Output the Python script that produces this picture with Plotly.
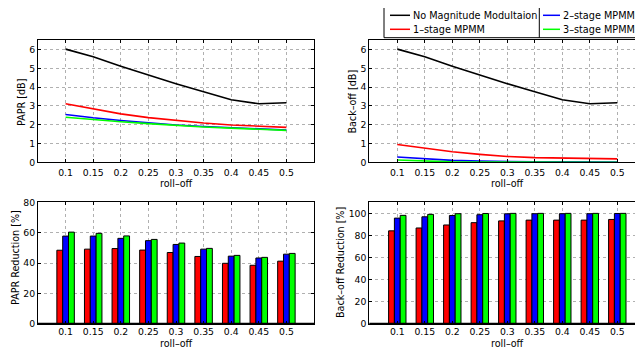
import plotly.graph_objects as go

roll_off = [0.1, 0.15, 0.2, 0.25, 0.3, 0.35, 0.4, 0.45, 0.5]
tick_labels = ["0.1", "0.15", "0.2", "0.25", "0.3", "0.35", "0.4", "0.45", "0.5"]

papr_none = [6.03, 5.62, 5.12, 4.64, 4.19, 3.76, 3.33, 3.12, 3.17]
papr_1 = [3.12, 2.85, 2.58, 2.38, 2.22, 2.09, 1.99, 1.92, 1.86]
papr_2 = [2.55, 2.37, 2.23, 2.10, 1.99, 1.91, 1.84, 1.77, 1.72]
papr_3 = [2.40, 2.27, 2.16, 2.06, 1.96, 1.88, 1.82, 1.75, 1.70]

bo_none = [6.03, 5.62, 5.12, 4.64, 4.19, 3.76, 3.33, 3.12, 3.17]
bo_1 = [0.95, 0.76, 0.56, 0.42, 0.31, 0.25, 0.22, 0.20, 0.18]
bo_2 = [0.28, 0.18, 0.10, 0.06, 0.03, 0.02, 0.02, 0.01, 0.01]
bo_3 = [0.12, 0.06, 0.02, 0.01, 0.0, 0.0, 0.0, 0.0, 0.0]

papr_red_1 = [48.5, 49.2, 49.6, 48.6, 47.0, 44.4, 39.9, 38.6, 41.3]
papr_red_2 = [57.8, 57.8, 56.3, 54.8, 52.3, 49.2, 44.6, 43.4, 45.9]
papr_red_3 = [60.4, 59.6, 57.9, 55.6, 53.2, 49.7, 45.1, 43.8, 46.4]

bo_red_1 = [84.2, 86.8, 89.5, 91.6, 93.2, 93.9, 93.9, 93.9, 94.5]
bo_red_2 = [95.7, 96.9, 98.1, 98.8, 99.6, 99.7, 99.7, 99.7, 99.9]
bo_red_3 = [98.2, 99.1, 99.7, 99.9, 100, 100, 100, 100, 100]

series_names = ["No Magnitude Modultaion", "1\u2013stage MPMM", "2\u2013stage MPMM", "3\u2013stage MPMM"]
colors = ["#000000", "#ff0000", "#0000ff", "#00ff00"]

x_title = "roll\u2013off"
y_titles = ["PAPR [dB]", "Back\u2013off [dB]", "PAPR Reduction [%]", "Back\u2013off Reduction [%]"]

W, H = 643, 349
OFF = 8  # page body margin offset
FONT = "DejaVu Sans, Verdana, sans-serif"

def px_x(p):
    return (p - OFF) / W

def px_y(p):
    return 1 - (p - OFF) / H

fig = go.Figure()

for ys, name, c in zip([papr_none, papr_1, papr_2, papr_3], series_names, colors):
    fig.add_trace(go.Scatter(x=roll_off, y=ys, mode="lines", name=name,
                             line=dict(color=c, width=1.6), xaxis="x", yaxis="y",
                             showlegend=False))
for ys, name, c in zip([bo_none, bo_1, bo_2, bo_3], series_names, colors):
    fig.add_trace(go.Scatter(x=roll_off, y=ys, mode="lines", name=name,
                             line=dict(color=c, width=1.6), xaxis="x2", yaxis="y2",
                             showlegend=False))
for ys, name, c in zip([papr_red_1, papr_red_2, papr_red_3], series_names[1:], colors[1:]):
    fig.add_trace(go.Bar(x=roll_off, y=ys, name=name, marker=dict(color=c, line=dict(color="#000", width=1)),
                         xaxis="x3", yaxis="y3", showlegend=False, offsetgroup=name))
for ys, name, c in zip([bo_red_1, bo_red_2, bo_red_3], series_names[1:], colors[1:]):
    fig.add_trace(go.Bar(x=roll_off, y=ys, name=name, marker=dict(color=c, line=dict(color="#000", width=1)),
                         xaxis="x4", yaxis="y4", showlegend=False, offsetgroup=name))

top_px = (40.3, 162.3)
bot_px = (202.3, 324.0)
left_px = (38.0, 314.0)
right_px = (369.3, 644.8)

top_dom = [px_y(top_px[1]), px_y(top_px[0])]
bot_dom = [px_y(bot_px[1]), px_y(bot_px[0])]
left_dom = [px_x(left_px[0]), px_x(left_px[1])]
right_dom = [px_x(right_px[0]), 1.0]
right_end_px = W + OFF
right_rng = [0.1 - (397.3 - 369.3) / 550.0, 0.1 + (right_end_px - 397.3) / 550.0]

tickfont = dict(family=FONT, size=9.3, color="#000")
titlefont = dict(family=FONT, size=9.6, color="#000")

def xax(dom, anchor, rng, standoff):
    return dict(domain=dom, anchor=anchor, range=rng, tickvals=roll_off, ticktext=tick_labels,
                showline=True, linecolor="#000", linewidth=1, mirror="allticks",
                ticks="inside", ticklen=3, tickcolor="#000",
                showgrid=True, gridcolor="#b0b0b0", griddash="dot", gridwidth=1,
                zeroline=False, tickfont=tickfont, automargin=False, ticklabelstandoff=standoff)

def yax(dom, anchor, rng, dtick):
    return dict(domain=dom, anchor=anchor, range=rng, dtick=dtick, tick0=0,
                showline=True, linecolor="#000", linewidth=1, mirror="allticks",
                ticks="inside", ticklen=3, tickcolor="#000",
                showgrid=True, gridcolor="#b0b0b0", griddash="dot", gridwidth=1,
                zeroline=False, tickfont=tickfont, automargin=False)

fig.update_layout(
    width=W, height=H,
    margin=dict(l=0, r=0, t=0, b=0),
    paper_bgcolor="white", plot_bgcolor="white",
    font=dict(family=FONT, size=9.6, color="#000"),
    barmode="group", bargap=0.367, bargroupgap=0,
    showlegend=False,
    xaxis=xax(left_dom, "y", [0.05, 0.55], 2),
    yaxis=yax(top_dom, "x", [0, 6.5], 1),
    xaxis2=xax(right_dom, "y2", right_rng, 2),
    yaxis2=yax(top_dom, "x2", [0, 6.5], 1),
    xaxis3=xax(left_dom, "y3", [0.05, 0.55], -1),
    yaxis3=yax(bot_dom, "x3", [0, 80], 20),
    xaxis4=xax(right_dom, "y4", right_rng, -1),
    yaxis4=yax(bot_dom, "x4", [0, 110], 20),
)

for yref, xref in [("y3", "x3 domain"), ("y4", "x4 domain")]:
    fig.add_shape(type="line", xref=xref, yref=yref, x0=0, x1=1, y0=0, y1=0,
                  line=dict(color="#000", width=2.5))

# axis titles
for cx, cy in [((left_px[0] + left_px[1]) / 2, 183.0), ((right_px[0] + right_px[1]) / 2, 183.0),
               ((left_px[0] + left_px[1]) / 2, 343.4), ((right_px[0] + right_px[1]) / 2, 343.4)]:
    fig.add_annotation(xref="paper", yref="paper", x=px_x(cx), y=px_y(cy), text=x_title,
                       showarrow=False, xanchor="center", yanchor="middle", font=titlefont,
                       borderpad=0)
for (cx, cy), t in zip([(21.5, 102.5), (352.3, 101.3), (15.0, 258.0), (340.0, 263.0)], y_titles):
    fig.add_annotation(xref="paper", yref="paper", x=px_x(cx), y=px_y(cy), text=t, textangle=-90,
                       showarrow=False, xanchor="center", yanchor="middle", font=titlefont)

# legend (MATLAB style, two columns)
lg_x0, lg_y0, lg_y1 = 384, 7.3, 37.7
div_x = 539.3
fig.add_shape(type="rect", xref="paper", yref="paper", x0=px_x(lg_x0), x1=1.0,
              y0=px_y(lg_y1), y1=px_y(lg_y0), line=dict(color="#000", width=1), fillcolor="white")
fig.add_shape(type="line", xref="paper", yref="paper", x0=px_x(div_x), x1=px_x(div_x),
              y0=px_y(lg_y1), y1=px_y(lg_y0), line=dict(color="#000", width=1))
entries = [(0, 0), (0, 1), (1, 0), (1, 1)]
col_line = [(390, 410, 410.5), (543, 560, 560.5)]
row_y = [15.3, 29.3]
for (col, row), name, c in zip(entries, series_names, colors):
    lx0, lx1, tx = col_line[col]
    ry = row_y[row]
    fig.add_shape(type="line", xref="paper", yref="paper", x0=px_x(lx0), x1=px_x(lx1),
                  y0=px_y(ry), y1=px_y(ry), line=dict(color=c, width=1.5))
    fig.add_annotation(xref="paper", yref="paper", x=px_x(tx), y=px_y(ry), text=name,
                       showarrow=False, xanchor="left", yanchor="middle",
                       font=dict(family=FONT, size=9.7, color="#000"))

fig.write_html("out.html")
